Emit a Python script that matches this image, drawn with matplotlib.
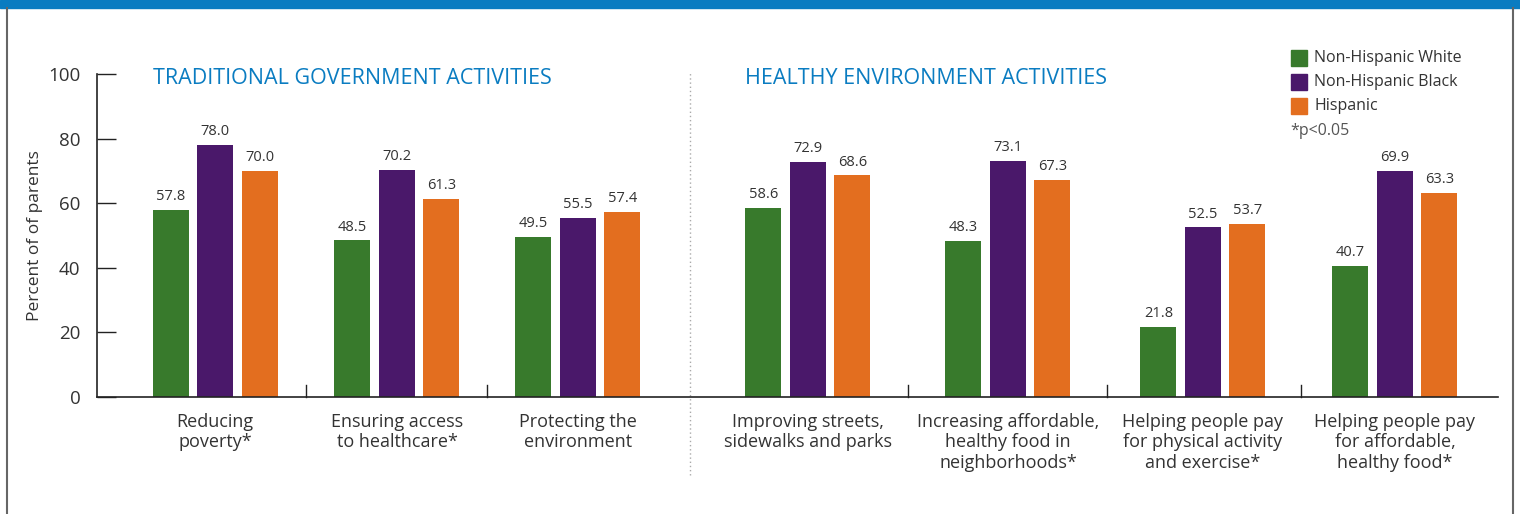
import matplotlib.pyplot as plt
from matplotlib.lines import Line2D
from matplotlib.patches import Rectangle

plt.rcParams["font.family"] = ["Open Sans", "DejaVu Sans"]

# data
categories = [
    "Reducing\npoverty*",
    "Ensuring access\nto healthcare*",
    "Protecting the\nenvironment",
    "Improving streets,\nsidewalks and parks",
    "Increasing affordable,\nhealthy food in\nneighborhoods*",
    "Helping people pay\nfor physical activity\nand exercise*",
    "Helping people pay\nfor affordable,\nhealthy food*",
]
white = [57.8, 48.5, 49.5, 58.6, 48.3, 21.8, 40.7]
black = [78.0, 70.2, 55.5, 72.9, 73.1, 52.5, 69.9]
hispanic = [70.0, 61.3, 57.4, 68.6, 67.3, 53.7, 63.3]
series_names = ["Non-Hispanic White", "Non-Hispanic Black", "Hispanic"]
yticks = [0, 20, 40, 60, 80, 100]

COLORS = ["#387a2c", "#4a186a", "#e36e1f"]
BLUE = "#0a7cc1"
TEXT = "#333333"

# group centres (x units ~ pixels), left section tighter than right
centers = [215, 397, 578, 808, 1008, 1203, 1395]
boundaries = [306, 487, 908, 1107, 1301]
offset = 44.5
width = 36

fig = plt.figure(figsize=(15.2, 5.14), dpi=100)
ax = fig.add_axes([97 / 1520, 117 / 514, (1498 - 97) / 1520, (440 - 117) / 514])

for k, vals in enumerate([white, black, hispanic]):
    xs = [c + (k - 1) * offset for c in centers]
    ax.bar(xs, vals, width=width, color=COLORS[k], zorder=2)
    for x, v in zip(xs, vals):
        ax.text(x, v + 1.8, f"{v:.1f}", ha="center", va="bottom",
                fontsize=10.5, color=TEXT)

ax.set_xlim(97, 1498)
ax.set_ylim(0, 100)
ax.set_yticks(yticks)
ax.tick_params(axis="y", direction="in", length=14, width=1, labelsize=13.5,
               labelcolor=TEXT, pad=12, color="#222222")
ax.set_xticks([])
for s in ["top", "right"]:
    ax.spines[s].set_visible(False)
for s in ["left", "bottom"]:
    ax.spines[s].set_color("#222222")
    ax.spines[s].set_linewidth(1.2)
ax.set_ylabel("Percent of of parents", fontsize=12.5, color=TEXT, labelpad=4)

# small separator ticks on the x axis
for b in boundaries:
    ax.plot([b, b], [0, 3.8], color="#222222", lw=1, clip_on=False)

for c, lab in zip(centers, categories):
    ax.text(c, -4.8, lab, ha="center", va="top", fontsize=13, color=TEXT,
            linespacing=1.2)

# section titles
ax.text(153, 98.5, "TRADITIONAL GOVERNMENT ACTIVITIES", ha="left", va="center",
        fontsize=15.5, color=BLUE)
ax.text(745, 98.5, "HEALTHY ENVIRONMENT ACTIVITIES", ha="left", va="center",
        fontsize=15.5, color=BLUE)

# dotted divider between sections
ax.plot([690, 690], [-24, 101], color="#aaaaaa", lw=1, ls=(0, (1, 2)),
        clip_on=False)

# legend
for k, name in enumerate(series_names):
    y = 1 - (58 + 24 * k) / 514
    fig.patches.append(Rectangle((1291 / 1520, y - 8 / 514), 16 / 1520, 16 / 514,
                                 transform=fig.transFigure, color=COLORS[k]))
    fig.text(1314 / 1520, y, name, ha="left", va="center", fontsize=11.5, color=TEXT)
fig.text(1290 / 1520, 1 - 131 / 514, "*p<0.05", ha="left", va="center",
         fontsize=11.5, color="#555555")

# frame: blue top band, grey side borders
fig.patches.append(Rectangle((0, 1 - 8 / 514), 1, 8 / 514,
                             transform=fig.transFigure, color=BLUE))
fig.lines.append(Line2D([7 / 1520, 7 / 1520], [0, 1 - 8 / 514],
                        transform=fig.transFigure, color="#666666", lw=1.5))
fig.lines.append(Line2D([1513 / 1520, 1513 / 1520], [0, 1 - 8 / 514],
                        transform=fig.transFigure, color="#666666", lw=1.5))

fig.savefig("out.png", dpi=100)
